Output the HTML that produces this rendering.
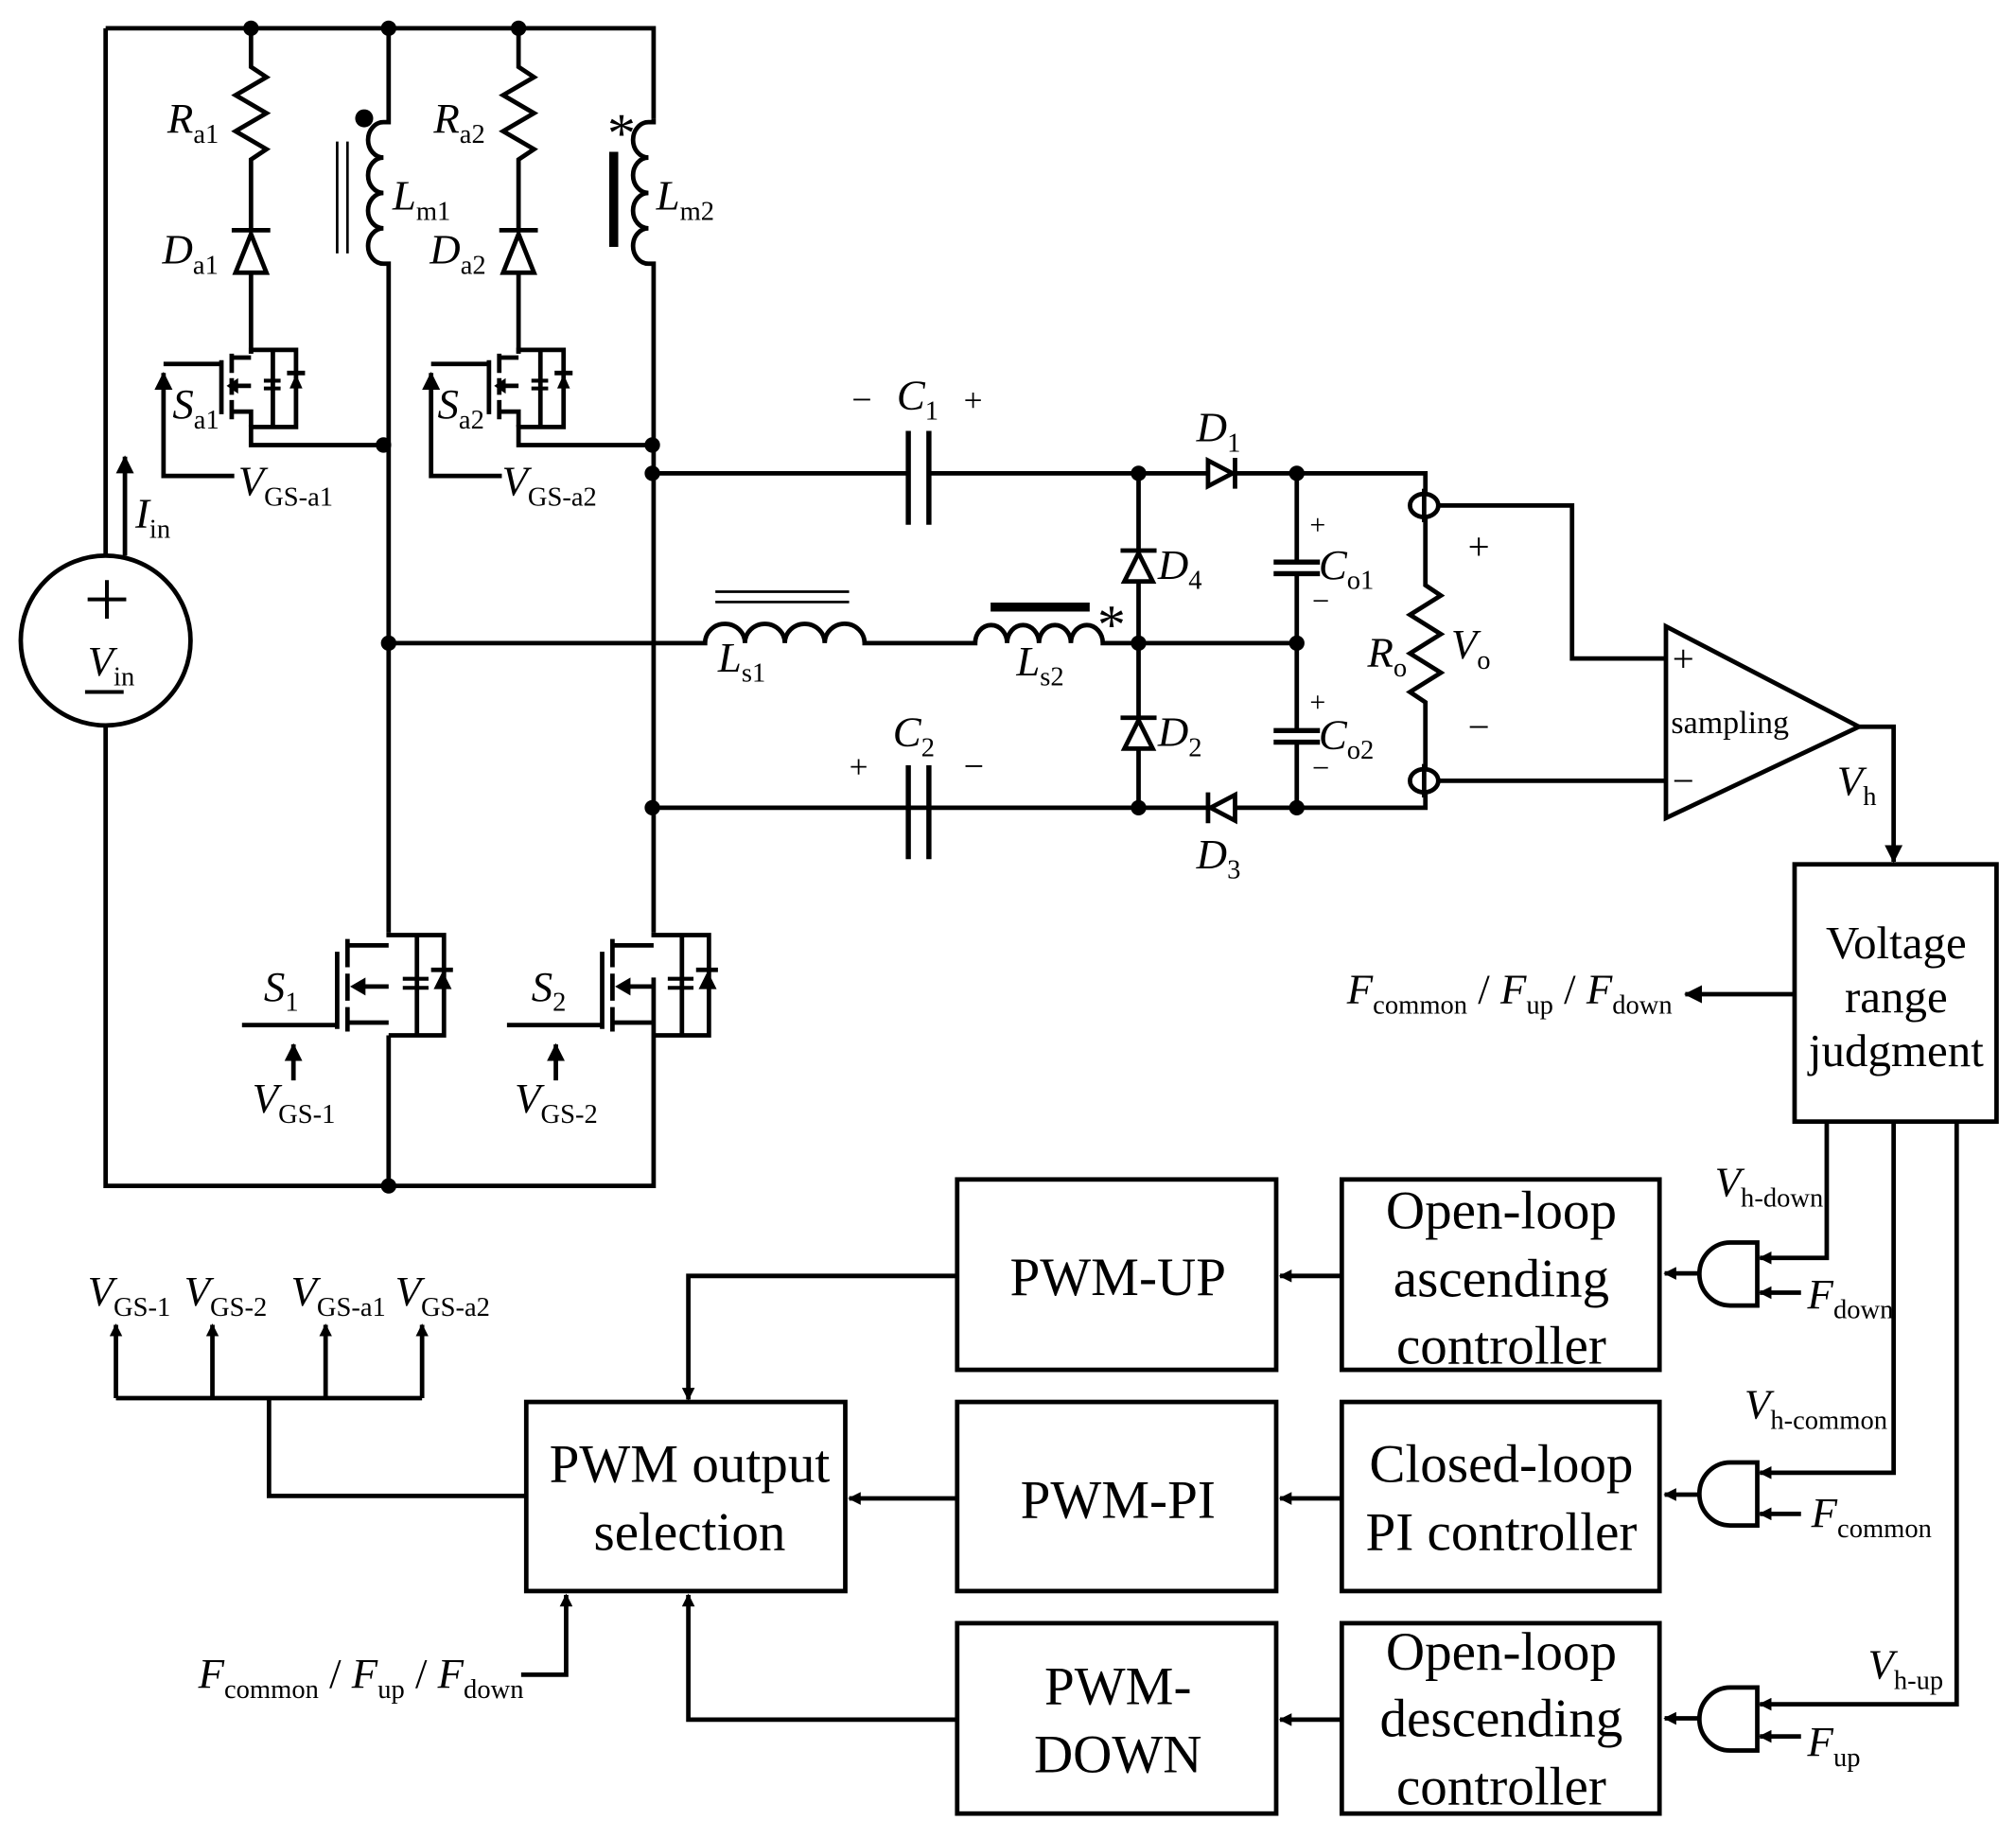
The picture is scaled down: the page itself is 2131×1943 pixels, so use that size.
<!DOCTYPE html>
<html><head><meta charset="utf-8"><style>
html,body{margin:0;padding:0;background:#fff}
svg{display:block}
text{font-family:"Liberation Serif",serif;fill:#000}
.v{font-style:italic;font-size:33px}
.s{font-size:21px;font-style:normal}
.b{font-size:42px;font-family:"Liberation Serif",serif}
</style></head><body>
<svg width="2131" height="1943" viewBox="0 0 1567 1429" xmlns="http://www.w3.org/2000/svg">
<defs>
<marker id="ar" markerWidth="10" markerHeight="10" refX="9" refY="5" orient="auto" markerUnits="userSpaceOnUse"><path d="M0,0 L10,5 L0,10 z" fill="#000"/></marker>
<marker id="ar2" markerWidth="14" markerHeight="14" refX="13" refY="7" orient="auto" markerUnits="userSpaceOnUse"><path d="M0,0 L14,7 L0,14 z" fill="#000"/></marker>
</defs>
<g fill="none" stroke="#000" stroke-width="3.5">
<path d="M82,22 H508 V92"/>
<path d="M82,22 V432"/><path d="M82,565 V922 H508 V760"/>
<circle cx="82" cy="498" r="66"/>
<path d="M195,22 V52 l12,8 l-24,14 l24,14 l-24,14 l24,14 l-12,8 V180"/>
<path d="M195,212 V275"/>
<path d="M403,22 V52 l12,8 l-24,14 l24,14 l-24,14 l24,14 l-12,8 V180"/>
<path d="M403,212 V275"/>
<path d="M302,22 V95 H298 a12,13.75 0 1,0 0,27.5 a12,13.75 0 1,0 0,27.5 a12,13.75 0 1,0 0,27.5 a12,13.75 0 1,0 0,27.5 H302 V725"/>
<path d="M302,805 V922"/>
<line x1="262" y1="110" x2="262" y2="197" stroke-width="2"/><line x1="270" y1="110" x2="270" y2="197" stroke-width="2"/>
<path d="M508,92 V95 H504 a12,13.75 0 1,0 0,27.5 a12,13.75 0 1,0 0,27.5 a12,13.75 0 1,0 0,27.5 a12,13.75 0 1,0 0,27.5 H508 V725"/>
<line x1="477" y1="118" x2="477" y2="192" stroke-width="7"/>
<path d="M195,275 V272 H230 V332 H195 V346 H298"/>
<path d="M180,278 H195 M180,320 H195 V332"/>
<path d="M180,275 V290 M180,294 V307 M180,311 V326"/>
<path d="M172,280 V322"/>
<path d="M127,283 H172"/>
<path d="M182,300 H195"/>
<path d="M212,272 V332"/>
<path d="M205,296 H218 M205,302 H218" stroke-width="3"/>
<path d="M223,290 H237"/>
<path d="M403,275 V272 H438 V332 H403 V346 H508"/>
<path d="M388,278 H403 M388,320 H403 V332"/>
<path d="M388,275 V290 M388,294 V307 M388,311 V326"/>
<path d="M380,280 V322"/><path d="M335,283 H380"/><path d="M390,300 H403"/>
<path d="M420,272 V332"/><path d="M413,296 H426 M413,302 H426" stroke-width="3"/><path d="M431,290 H445"/>
<path d="M182,370 H127 V290" marker-end="url(#ar2)"/>
<path d="M390,370 H335 V290" marker-end="url(#ar2)"/>
<path d="M97,432 V355" marker-end="url(#ar2)"/>
<path d="M302,725 V727 H345 V805 H302"/>
<path d="M270,735 H302 M270,795 H302"/>
<path d="M270,730 V752 M270,757 V778 M270,783 V802"/>
<path d="M262,740 V800"/><path d="M188,797 H262"/><path d="M275,767 H302"/>
<path d="M324,727 V805"/><path d="M313,761 H333 M313,768 H333" stroke-width="3"/><path d="M335,754 H352"/>
<path d="M508,725 V727 H551 V805 H508"/>
<path d="M476,735 H508 M476,795 H508"/>
<path d="M476,730 V752 M476,757 V778 M476,783 V802"/>
<path d="M468,740 V800"/><path d="M394,797 H468"/><path d="M481,767 H508"/>
<path d="M530,727 V805"/><path d="M519,761 H539 M519,768 H539" stroke-width="3"/><path d="M541,754 H558"/>
<path d="M228,840 V812" marker-end="url(#ar2)"/>
<path d="M432,840 V812" marker-end="url(#ar2)"/>
<path d="M508,368 H706 M722,368 H1108 V455 l12,8 l-24,15 l24,15 l-24,15 l24,15 l-24,15 l12,8 V628 H508"/>
<line x1="706" y1="335" x2="706" y2="408" stroke-width="4"/><line x1="722" y1="335" x2="722" y2="408" stroke-width="4"/>
<line x1="706" y1="595" x2="706" y2="668" stroke-width="4"/><line x1="722" y1="595" x2="722" y2="668" stroke-width="4"/>
<path d="M302,500 H548 a15.5,15 0 1,1 31,0 a15.5,15 0 1,1 31,0 a15.5,15 0 1,1 31,0 a15.5,15 0 1,1 31,0 H758 a12.4,14 0 1,1 24.8,0 a12.4,14 0 1,1 24.8,0 a12.4,14 0 1,1 24.8,0 a12.4,14 0 1,1 24.8,0 H1008"/>
<line x1="556" y1="460" x2="660" y2="460" stroke-width="2"/><line x1="556" y1="468" x2="660" y2="468" stroke-width="2"/>
<line x1="770" y1="472" x2="847" y2="472" stroke-width="7"/>
<path d="M885,368 V628 M1008,368 V436 M1008,446 V568 M1008,578 V628"/>
<line x1="990" y1="437" x2="1026" y2="437" stroke-width="4"/><line x1="990" y1="446" x2="1026" y2="446" stroke-width="4"/>
<line x1="990" y1="568" x2="1026" y2="568" stroke-width="4"/><line x1="990" y1="577" x2="1026" y2="577" stroke-width="4"/>
<path d="M183,212 H207 L195,182 Z M180,179 H210" fill="#fff"/>
<path d="M391,212 H415 L403,182 Z M388,179 H418" fill="#fff"/>
<path d="M874,452 H896 L885,430 Z M871,428 H899" fill="#fff"/>
<path d="M874,582 H896 L885,560 Z M871,558 H899" fill="#fff"/>
<path d="M939,358 V378 L958,368 Z M960,356 V380" fill="#fff"/>
<path d="M960,618 V638 L941,628 Z M939,616 V640" fill="#fff"/>
<ellipse cx="1107" cy="393" rx="11" ry="9" fill="#fff"/><ellipse cx="1107" cy="607" rx="11" ry="9" fill="#fff"/>
<line x1="1107" y1="380" x2="1107" y2="406"/><line x1="1107" y1="594" x2="1107" y2="620"/>
<path d="M1118,393 H1222 V512 H1295 M1118,607 H1295"/>
<path d="M1295,487 V636 L1445,565 Z"/>
<path d="M1445,565 H1472 V670" marker-end="url(#ar2)"/>
<rect x="1395" y="672" width="157" height="200"/>
<path d="M1395,773 H1310" marker-end="url(#ar2)"/>
<path d="M1420,872 V978 H1368" marker-end="url(#ar)"/>
<path d="M1472,872 V1145 H1368" marker-end="url(#ar)"/>
<path d="M1521,872 V1325 H1368" marker-end="url(#ar)"/>
<path d="M1400,1005 H1368" marker-end="url(#ar)"/>
<path d="M1400,1177 H1368" marker-end="url(#ar)"/>
<path d="M1400,1350 H1368" marker-end="url(#ar)"/>
<path d="M1366,966 V1015 H1345 A24,24.5 0 0,1 1345,966 Z"/>
<path d="M1366,1137 V1186 H1345 A24,24.5 0 0,1 1345,1137 Z"/>
<path d="M1366,1312 V1361 H1345 A24,24.5 0 0,1 1345,1312 Z"/>
<path d="M1321,990 H1294" marker-end="url(#ar)"/>
<path d="M1321,1162 H1294" marker-end="url(#ar)"/>
<path d="M1321,1336 H1294" marker-end="url(#ar)"/>
<rect x="1043" y="917" width="247" height="148"/>
<rect x="1043" y="1090" width="247" height="147"/>
<rect x="1043" y="1262" width="247" height="148"/>
<rect x="744" y="917" width="248" height="148"/>
<rect x="744" y="1090" width="248" height="147"/>
<rect x="744" y="1262" width="248" height="148"/>
<rect x="409" y="1090" width="248" height="147"/>
<path d="M1043,992 H995" marker-end="url(#ar)"/>
<path d="M1043,1165 H995" marker-end="url(#ar)"/>
<path d="M1043,1337 H995" marker-end="url(#ar)"/>
<path d="M744,1165 H660" marker-end="url(#ar)"/>
<path d="M744,992 H535 V1088" marker-end="url(#ar)"/>
<path d="M744,1337 H535 V1240" marker-end="url(#ar)"/>
<path d="M405,1302 H440 V1240" marker-end="url(#ar)"/>
<path d="M409,1163 H209 V1087"/>
<path d="M90,1087 H328"/>
<path d="M90,1087 V1030" marker-end="url(#ar)"/>
<path d="M165,1087 V1030" marker-end="url(#ar)"/>
<path d="M253,1087 V1030" marker-end="url(#ar)"/>
<path d="M328,1087 V1030" marker-end="url(#ar)"/>
<path d="M68,466 H98 M83,451 V481 M66,538 H96" stroke-width="3"/>
</g>
<g fill="#000">
<circle cx="195" cy="22" r="6"/><circle cx="302" cy="22" r="6"/><circle cx="403" cy="22" r="6"/>
<circle cx="283" cy="92" r="7"/>
<circle cx="298" cy="346" r="6"/><circle cx="507" cy="346" r="6"/><circle cx="507" cy="368" r="6"/>
<circle cx="302" cy="500" r="6"/><circle cx="507" cy="628" r="6"/><circle cx="302" cy="922" r="6"/>
<circle cx="885" cy="368" r="6"/><circle cx="1008" cy="368" r="6"/><circle cx="885" cy="500" r="6"/>
<circle cx="1008" cy="500" r="6"/><circle cx="885" cy="628" r="6"/><circle cx="1008" cy="628" r="6"/>
<path d="M176,300 l9,-6 v12 z M384,300 l9,-6 v12 z M272,767 l12,-7 v14 z M478,767 l12,-7 v14 z"/>
<path d="M225,302 l5,-11 l5,11 z M433,302 l5,-11 l5,11 z M337,769 l7,-14 l7,14 z M543,769 l7,-14 l7,14 z"/>
</g>
<text x="130" y="103" class="v">R<tspan class="s" dy="8">a1</tspan></text>
<text x="337" y="103" class="v">R<tspan class="s" dy="8">a2</tspan></text>
<text x="126" y="205" class="v">D<tspan class="s" dy="8">a1</tspan></text>
<text x="334" y="205" class="v">D<tspan class="s" dy="8">a2</tspan></text>
<text x="305" y="163" class="v">L<tspan class="s" dy="8">m1</tspan></text>
<text x="510" y="163" class="v">L<tspan class="s" dy="8">m2</tspan></text>
<text x="472" y="118" font-size="44">*</text>
<text x="853" y="500" font-size="44">*</text>
<text x="134" y="325" class="v">S<tspan class="s" dy="8">a1</tspan></text>
<text x="340" y="325" class="v">S<tspan class="s" dy="8">a2</tspan></text>
<text x="185" y="385" class="v">V<tspan class="s" dy="8">GS-a1</tspan></text>
<text x="390" y="385" class="v">V<tspan class="s" dy="8">GS-a2</tspan></text>
<text x="105" y="410" class="v">I<tspan class="s" dy="8">in</tspan></text>
<text x="68" y="525" class="v">V<tspan class="s" dy="8">in</tspan></text>
<text x="205" y="778" class="v">S<tspan class="s" dy="8">1</tspan></text>
<text x="413" y="778" class="v">S<tspan class="s" dy="8">2</tspan></text>
<text x="196" y="865" class="v">V<tspan class="s" dy="8">GS-1</tspan></text>
<text x="400" y="865" class="v">V<tspan class="s" dy="8">GS-2</tspan></text>
<text x="662" y="320" font-size="28">−</text>
<text x="697" y="318" class="v">C<tspan class="s" dy="8">1</tspan></text>
<text x="749" y="320" font-size="26">+</text>
<text x="660" y="605" font-size="26">+</text>
<text x="694" y="580" class="v">C<tspan class="s" dy="8">2</tspan></text>
<text x="749" y="605" font-size="28">−</text>
<text x="930" y="343" class="v">D<tspan class="s" dy="8">1</tspan></text>
<text x="930" y="675" class="v">D<tspan class="s" dy="8">3</tspan></text>
<text x="900" y="450" class="v">D<tspan class="s" dy="8">4</tspan></text>
<text x="900" y="580" class="v">D<tspan class="s" dy="8">2</tspan></text>
<text x="558" y="522" class="v">L<tspan class="s" dy="8">s1</tspan></text>
<text x="790" y="525" class="v">L<tspan class="s" dy="8">s2</tspan></text>
<text x="1018" y="415" font-size="22">+</text>
<text x="1025" y="450" class="v">C<tspan class="s" dy="8">o1</tspan></text>
<text x="1020" y="475" font-size="24">−</text>
<text x="1018" y="553" font-size="22">+</text>
<text x="1025" y="582" class="v">C<tspan class="s" dy="8">o2</tspan></text>
<text x="1020" y="605" font-size="24">−</text>
<text x="1063" y="518" class="v">R<tspan class="s" dy="8">o</tspan></text>
<text x="1128" y="512" class="v">V<tspan class="s" dy="8">o</tspan></text>
<text x="1141" y="435" font-size="30">+</text>
<text x="1141" y="575" font-size="30">−</text>
<text x="1300" y="522" font-size="30">+</text>
<text x="1300" y="617" font-size="30">−</text>
<text x="1299" y="570" font-size="25">sampling</text>
<text x="1428" y="618" class="v">V<tspan class="s" dy="8">h</tspan></text>
<text x="1474" y="745" font-size="36" text-anchor="middle">Voltage</text>
<text x="1474" y="787" font-size="36" text-anchor="middle">range</text>
<text x="1474" y="829" font-size="36" text-anchor="middle">judgment</text>
<text x="1047" y="780" class="v">F<tspan class="s" dy="8">common</tspan><tspan dy="-8" font-style="normal"> / </tspan>F<tspan class="s" dy="8">up</tspan><tspan dy="-8" font-style="normal"> / </tspan>F<tspan class="s" dy="8">down</tspan></text>
<text x="154" y="1312" class="v">F<tspan class="s" dy="8">common</tspan><tspan dy="-8" font-style="normal"> / </tspan>F<tspan class="s" dy="8">up</tspan><tspan dy="-8" font-style="normal"> / </tspan>F<tspan class="s" dy="8">down</tspan></text>
<text x="1333" y="930" class="v">V<tspan class="s" dy="8">h-down</tspan></text>
<text x="1356" y="1103" class="v">V<tspan class="s" dy="8">h-common</tspan></text>
<text x="1452" y="1305" class="v">V<tspan class="s" dy="8">h-up</tspan></text>
<text x="1405" y="1017" class="v">F<tspan class="s" dy="8">down</tspan></text>
<text x="1408" y="1187" class="v">F<tspan class="s" dy="8">common</tspan></text>
<text x="1405" y="1365" class="v">F<tspan class="s" dy="8">up</tspan></text>
<text x="68" y="1015" class="v">V<tspan class="s" dy="8">GS-1</tspan></text>
<text x="143" y="1015" class="v">V<tspan class="s" dy="8">GS-2</tspan></text>
<text x="226" y="1015" class="v">V<tspan class="s" dy="8">GS-a1</tspan></text>
<text x="307" y="1015" class="v">V<tspan class="s" dy="8">GS-a2</tspan></text>
<g text-anchor="middle">
<text x="1167" y="955" class="b">Open-loop</text>
<text x="1167" y="1008" class="b">ascending</text>
<text x="1167" y="1060" class="b">controller</text>
<text x="1167" y="1152" class="b">Closed-loop</text>
<text x="1167" y="1205" class="b">PI controller</text>
<text x="1167" y="1298" class="b">Open-loop</text>
<text x="1167" y="1350" class="b">descending</text>
<text x="1167" y="1403" class="b">controller</text>
<text x="869" y="1007" class="b">PWM-UP</text>
<text x="869" y="1180" class="b">PWM-PI</text>
<text x="869" y="1325" class="b">PWM-</text>
<text x="869" y="1378" class="b">DOWN</text>
<text x="536" y="1152" class="b">PWM output</text>
<text x="536" y="1205" class="b">selection</text>
</g>
</svg>
</body></html>
